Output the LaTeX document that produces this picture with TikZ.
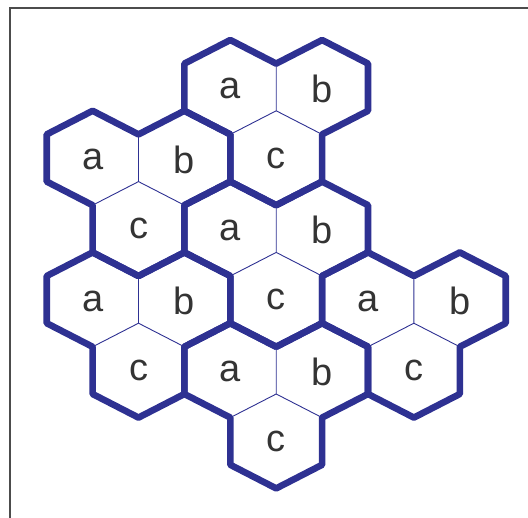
\documentclass[tikz,border=0pt]{standalone}
\usepackage{fontspec}
\setmainfont{Liberation Sans}
\definecolor{hexblue}{RGB}{46,49,146}
\definecolor{txtgray}{RGB}{52,52,52}
\begin{document}
\begin{tikzpicture}[x=1pt,y=-1pt,
  thickedge/.style={draw=hexblue,line width=6.6pt,line join=bevel},
  thinedge/.style={draw=hexblue,line width=0.9pt},
  lbl/.style={text=txtgray,font=\fontsize{38}{40}\selectfont,inner sep=0pt},
  frameline/.style={draw=black!70,line width=1.3pt}]
\useasboundingbox (0,0) rectangle (528,518);
\coordinate (fA) at (10,518);
\coordinate (fB) at (10,8);
\coordinate (fC) at (528,8);
\draw[frameline] (fA) -- (fB) -- (fC);
\def\hw{45.9}
\def\hh{23.6}
% group macro: #1 name, #2 x of a, #3 y of a
\newcommand{\trio}[3]{%
  \coordinate (#1m) at (#2+\hw,#3+\hh);
  \coordinate (#1t) at (#2+\hw,#3-\hh);
  \coordinate (#1l) at (#2,#3+2*\hh);
  \coordinate (#1r) at (#2+2*\hw,#3+2*\hh);
  \draw[thinedge] (#1t) -- (#1m) -- (#1l);
  \draw[thinedge] (#1m) -- (#1r);
  \draw[thickedge] (#2,#3-2*\hh) -- (#2+\hw,#3-\hh) -- (#2+2*\hw,#3-2*\hh)
    -- (#2+3*\hw,#3-\hh) -- (#2+3*\hw,#3+\hh) -- (#2+2*\hw,#3+2*\hh)
    -- (#2+2*\hw,#3+4*\hh) -- (#2+\hw,#3+5*\hh) -- (#2,#3+4*\hh)
    -- (#2,#3+2*\hh) -- (#2-\hw,#3+\hh) -- (#2-\hw,#3-\hh) -- cycle;
  \node[lbl] (#1a) at (#2,#3+1.5) {a};
  \node[lbl] (#1b) at (#2+2*\hw,#3+1.5) {b};
  \node[lbl] (#1c) at (#2+\hw,#3+3*\hh) {c};
}
\trio{g1}{230.3}{87.2}
\trio{g2}{92.6}{158.0}
\trio{g3}{230.3}{228.8}
\trio{g4}{92.6}{299.6}
\trio{g5}{368.0}{299.6}
\trio{g6}{230.3}{370.4}
\end{tikzpicture}
\end{document}
